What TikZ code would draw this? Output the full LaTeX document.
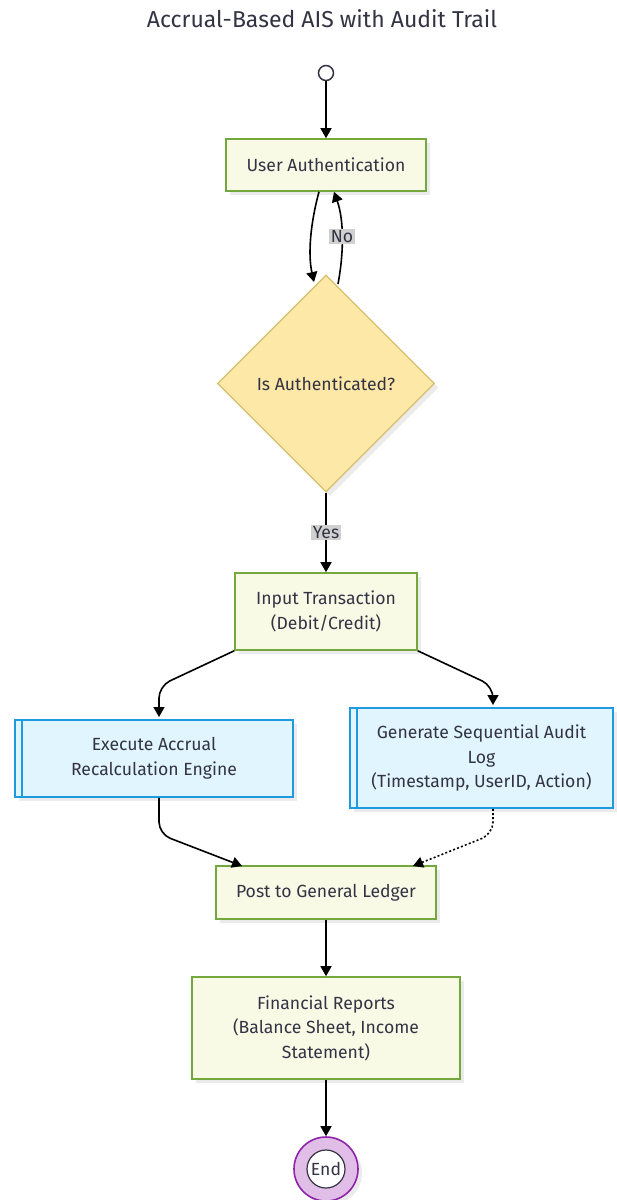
\documentclass[tikz,border=0pt]{standalone}
\usepackage{fontspec}
\setmainfont{Fira Sans}
\usetikzlibrary{arrows.meta,shapes.geometric,shadows}
\definecolor{ink}{HTML}{333344}
\definecolor{leaffill}{HTML}{F8FAE6}
\definecolor{leafline}{HTML}{72A83E}
\definecolor{decfill}{HTML}{FDE8A8}
\definecolor{decline}{HTML}{D4BF6E}
\definecolor{subfill}{HTML}{E1F5FE}
\definecolor{subline}{HTML}{1E9BE0}
\definecolor{endfill}{HTML}{E1BEE7}
\definecolor{endline}{HTML}{8E24AA}
\definecolor{tagfill}{HTML}{D0D0D0}
\begin{document}
\begin{tikzpicture}[x=1pt,y=-1pt,
  every node/.style={font=\fontsize{17.6}{24.5}\selectfont, text=ink},
  boxshadow/.style={drop shadow={shadow xshift=4pt, shadow yshift=-4pt, fill=black, opacity=0.08}},
  procbox/.style={rectangle, draw=leafline, fill=leaffill, line width=1.6pt, align=center, inner sep=0pt, boxshadow},
  subbox/.style={rectangle, draw=subline, fill=subfill, line width=1.6pt, align=center, inner sep=0pt, boxshadow},
  decbox/.style={diamond, draw=decline, fill=decfill, line width=1.2pt, align=center, inner sep=0pt, boxshadow},
  tag/.style={fill=tagfill, inner sep=1.5pt},
  flow/.style={line width=1.6pt, draw=black, -{Triangle[length=10pt,width=11pt]}},
  dotflow/.style={flow, dash pattern=on 2pt off 2.2pt},
]
\useasboundingbox (0,0) rectangle (617,1200);

% title
\node[font=\fontsize{23}{27}\selectfont] (title) at (322,19) {Accrual-Based AIS with Audit Trail};

% start and end markers
\node[circle, draw=ink, fill=white, line width=1.5pt, minimum size=15pt, inner sep=0pt] (start) at (326,73) {};
\node[circle, draw=endline, fill=endfill, line width=1.6pt, minimum size=64pt, inner sep=0pt, boxshadow] (stop) at (326,1169) {};
\node[circle, draw=ink, fill=white, line width=1.2pt, minimum size=38pt, inner sep=0pt] (stopin) at (326,1169) {End};

% process steps
\node[procbox, minimum width=200pt, minimum height=52pt] (auth) at (326,165) {User Authentication};
\node[decbox, minimum width=217pt, minimum height=217pt] (dec) at (326,383.5) {Is Authenticated?};
\node[procbox, minimum width=182pt, minimum height=77pt] (inp) at (326,611.5) {Input Transaction\\(Debit/Credit)};
\node[subbox, minimum width=278pt, minimum height=77pt] (ex) at (154,758.5) {Execute Accrual\\Recalculation Engine};
\node[subbox, minimum width=263pt, minimum height=100pt] (gen) at (481.5,758) {Generate Sequential Audit\\Log\\(Timestamp, UserID, Action)};
\node[procbox, minimum width=220pt, minimum height=53pt] (post) at (326,892.5) {Post to General Ledger};
\node[procbox, minimum width=268pt, minimum height=102pt] (rep) at (326,1028) {Financial Reports\\(Balance Sheet, Income\\Statement)};

% inner bars of the subroutine boxes
\draw[subline, line width=1.6pt] ([xshift=8pt]ex.north west) -- ([xshift=8pt]ex.south west);
\draw[subline, line width=1.6pt] ([xshift=8pt]gen.north west) -- ([xshift=8pt]gen.south west);

% connectors
\draw[flow] (start) -- (auth);
\draw[flow] ([xshift=-7pt]auth.south) .. controls (310,225) and (308,255) .. (314,282);
\draw[flow] (338,284) .. controls (344,252) and (344,220) .. ([xshift=8pt]auth.south)
  node[tag, pos=0.5] (no) {No};
\draw[flow] (dec.south) -- (inp.north) node[tag, pos=0.5] (yes) {Yes};
\coordinate (exin) at (159,686);
\coordinate (genin) at (493,686);
\draw[flow, rounded corners=12pt] (inp.south west) -- (exin) -- (159,717);
\draw[flow, rounded corners=12pt] (inp.south east) -- (genin) -- (493,705);
\coordinate (exout) at (159,834);
\coordinate (genout) at (493,834);
\draw[flow, rounded corners=12pt] (ex.south -| exout) -- (exout) -- (242,866);
\draw[dotflow, rounded corners=12pt] (gen.south -| genout) -- (genout) -- (413,866);
\draw[flow] (post) -- (rep);
\draw[flow] (rep) -- (stop);
\end{tikzpicture}
\end{document}
